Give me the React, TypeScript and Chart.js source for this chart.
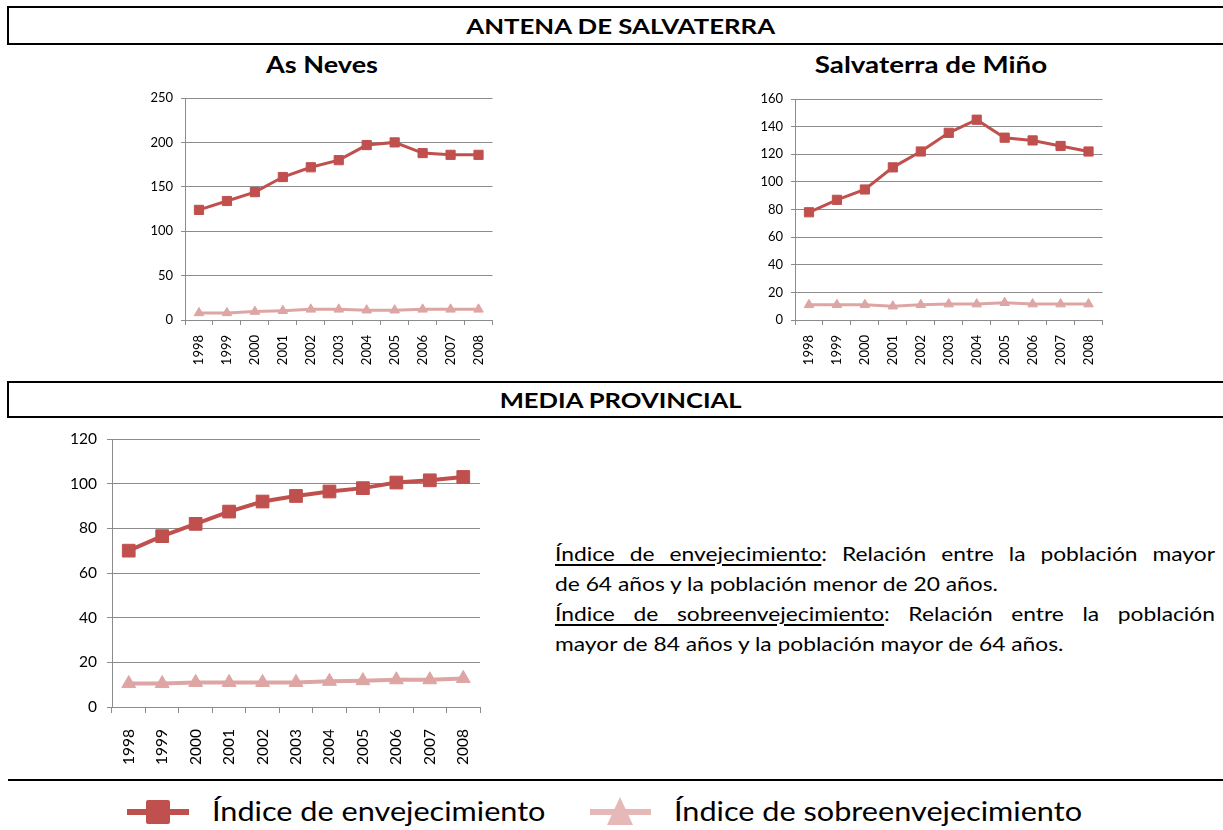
import React, { useEffect, useRef } from 'react';
import { Chart, registerables } from 'chart.js';

Chart.register(...registerables);

const YEARS = ['1998', '1999', '2000', '2001', '2002', '2003', '2004', '2005', '2006', '2007', '2008'];

const NEVES_ENV = [124, 134, 144, 161, 172, 180, 197, 200, 188, 186, 186];
const NEVES_SOB = [8, 8, 9.5, 10.5, 12, 12, 11, 11, 12, 12, 12];

const SALV_ENV = [78, 87, 94.5, 110.5, 122, 135.5, 145, 132, 130, 126, 122];
const SALV_SOB = [11, 11, 11, 10, 11, 11.5, 11.5, 12.5, 11.5, 11.5, 11.5];

const PROV_ENV = [70, 76.5, 82, 87.5, 92, 94.5, 96.5, 98, 100.5, 101.5, 103];
const PROV_SOB = [10.5, 10.5, 11, 11, 11, 11, 11.5, 11.8, 12.2, 12.2, 12.8];

const SERIES_ENV = 'Índice de envejecimiento';
const SERIES_SOB = 'Índice de sobreenvejecimiento';

const RED = '#C0504D';
const PINK = '#DDA5A4';
const PINK_LEGEND = '#E6B9B8';
const GRID = '#8C8C8C';
const FONT = 'Lato, "Open Sans", sans-serif';

type ChartProps = {
  left: number;
  top: number;
  width: number;
  height: number;
  yAxisWidth: number;
  xAxisHeight: number;
  padTop: number;
  padRight: number;
  env: number[];
  sob: number[];
  max: number;
  step: number;
  fontSize: number;
  lineWidth: number;
  squareR: number;
  triR: number;
  tickLen: number;
  yPad: number;
  xPad: number;
};

function LineChart(p: ChartProps) {
  const ref = useRef<HTMLCanvasElement>(null);
  useEffect(() => {
    const chart = new Chart(ref.current!, {
      type: 'line',
      data: {
        labels: YEARS,
        datasets: [
          {
            label: SERIES_ENV,
            data: p.env,
            borderColor: RED,
            backgroundColor: RED,
            borderWidth: p.lineWidth,
            pointStyle: 'rect',
            pointRadius: p.squareR,
            pointBackgroundColor: RED,
            pointBorderColor: RED,
            pointBorderWidth: 1,
            tension: 0,
          },
          {
            label: SERIES_SOB,
            data: p.sob,
            borderColor: PINK,
            backgroundColor: PINK,
            borderWidth: p.lineWidth,
            pointStyle: 'triangle',
            pointRadius: p.triR,
            pointBackgroundColor: PINK,
            pointBorderColor: PINK,
            pointBorderWidth: 1,
            tension: 0,
          },
        ],
      },
      options: {
        animation: false,
        responsive: false,
        maintainAspectRatio: false,
        layout: { padding: { top: p.padTop, right: p.padRight, left: 0, bottom: 0 } },
        plugins: { legend: { display: false }, tooltip: { enabled: false } },
        scales: {
          x: {
            offset: true,
            grid: {
              offset: true,
              drawOnChartArea: false,
              drawTicks: true,
              tickLength: p.tickLen,
              color: GRID,
            },
            border: { color: GRID, width: 1 },
            ticks: {
              autoSkip: false,
              maxRotation: 90,
              minRotation: 90,
              padding: p.xPad,
              color: '#000',
              font: { family: FONT, size: p.fontSize },
            },
            afterFit: (s: any) => {
              s.height = p.xAxisHeight;
              s.paddingLeft = 0;
              s.paddingRight = 0;
            },
          },
          y: {
            min: 0,
            max: p.max,
            ticks: {
              stepSize: p.step,
              padding: p.yPad,
              color: '#000',
              font: { family: FONT, size: p.fontSize },
            },
            grid: { color: GRID, tickLength: p.tickLen - 1, lineWidth: 1 },
            border: { color: GRID, width: 1 },
            afterFit: (s: any) => {
              s.width = p.yAxisWidth;
              s.paddingTop = 0;
              s.paddingBottom = 0;
            },
          },
        },
      },
    });
    return () => chart.destroy();
  }, []);
  return (
    <canvas
      ref={ref}
      width={p.width}
      height={p.height}
      style={{ position: 'absolute', left: p.left, top: p.top, width: p.width, height: p.height }}
    />
  );
}

const boxStyle = (top: number, height: number): React.CSSProperties => ({
  position: 'absolute',
  left: 7,
  top,
  width: 1230,
  height,
  boxSizing: 'border-box',
  border: '2px solid #000',
});

const boxText = (sx: number): React.CSSProperties => ({
  position: 'absolute',
  left: 0,
  width: 1223,
  top: 0,
  bottom: 0,
  display: 'flex',
  alignItems: 'center',
  justifyContent: 'center',
  fontFamily: FONT,
  fontWeight: 700,
  fontSize: 20,
  color: '#000',
  transform: `scaleX(${sx})`,
  transformOrigin: '611px 50%',
});

const titleStyle = (cx: number, top: number, sx: number): React.CSSProperties => ({
  position: 'absolute',
  left: cx - 200,
  width: 400,
  top,
  textAlign: 'center',
  fontFamily: FONT,
  fontWeight: 700,
  fontSize: 22,
  lineHeight: '26px',
  color: '#000',
  transform: `scaleX(${sx})`,
  transformOrigin: '200px 50%',
});

const TEXT_SX = 1.14;
const lineStyle = (top: number, justify: boolean): React.CSSProperties => ({
  position: 'absolute',
  left: 555,
  top,
  width: 660 / TEXT_SX,
  fontFamily: FONT,
  fontSize: 20,
  lineHeight: '30px',
  whiteSpace: 'nowrap',
  textAlign: justify ? 'justify' : 'left',
  textAlignLast: justify ? 'justify' : 'left',
  color: '#000',
  transform: `scaleX(${TEXT_SX})`,
  transformOrigin: '0 50%',
});

const ul: React.CSSProperties = { textDecoration: 'underline', textUnderlineOffset: 3 };

const LEG_SX = 1.135;
const legendText = (left: number): React.CSSProperties => ({
  position: 'absolute',
  left,
  top: 793,
  fontFamily: FONT,
  fontSize: 27,
  lineHeight: '36px',
  color: '#000',
  whiteSpace: 'nowrap',
  transform: `scaleX(${LEG_SX})`,
  transformOrigin: '0 50%',
});

export default function App() {
  return (
    <div
      style={{
        position: 'absolute',
        left: 0,
        top: 0,
        width: 1223,
        height: 830,
        overflow: 'hidden',
        background: '#fff',
      }}
    >
      <div style={boxStyle(6, 39)}>
        <div style={boxText(1.29)}>ANTENA DE SALVATERRA</div>
      </div>
      <div style={titleStyle(322, 52, 1.23)}>As Neves</div>
      <div style={titleStyle(931, 52, 1.26)}>Salvaterra de Miño</div>

      <LineChart
        left={135} top={88} width={365} height={290}
        yAxisWidth={50} xAxisHeight={58} padTop={10} padRight={7}
        env={NEVES_ENV} sob={NEVES_SOB} max={250} step={50}
        fontSize={13} lineWidth={3} squareR={6.5} triR={5.5}
        tickLen={5} yPad={8} xPad={10}
      />
      <LineChart
        left={745} top={89} width={365} height={289}
        yAxisWidth={50} xAxisHeight={58} padTop={10} padRight={7}
        env={SALV_ENV} sob={SALV_SOB} max={160} step={20}
        fontSize={13} lineWidth={3} squareR={6.5} triR={5.5}
        tickLen={5} yPad={8} xPad={10}
      />

      <div style={boxStyle(381, 37)}>
        <div style={boxText(1.28)}>MEDIA PROVINCIAL</div>
      </div>

      <LineChart
        left={55} top={428} width={435} height={340}
        yAxisWidth={57} xAxisHeight={61} padTop={11} padRight={8}
        env={PROV_ENV} sob={PROV_SOB} max={120} step={20}
        fontSize={15.5} lineWidth={4} squareR={9} triR={8}
        tickLen={6} yPad={10} xPad={16}
      />

      <div style={lineStyle(538, true)}>
        <span style={ul}>Índice de envejecimiento</span>: Relación entre la población mayor
      </div>
      <div style={lineStyle(568, false)}>de 64 años y la población menor de 20 años.</div>
      <div style={lineStyle(598, true)}>
        <span style={ul}>Índice de sobreenvejecimiento</span>: Relación entre la población
      </div>
      <div style={lineStyle(628, false)}>mayor de 84 años y la población mayor de 64 años.</div>

      <div style={{ position: 'absolute', left: 8, top: 779, width: 1230, height: 2, background: '#000' }} />

      {/* legend */}
      <div style={{ position: 'absolute', left: 127, top: 809, width: 62, height: 6, background: RED }} />
      <div style={{ position: 'absolute', left: 146, top: 800, width: 24, height: 24, background: RED, borderRadius: 2 }} />
      <div style={legendText(212)}>{SERIES_ENV}</div>
      <div style={{ position: 'absolute', left: 590, top: 809, width: 61, height: 6, background: PINK_LEGEND }} />
      <div
        style={{
          position: 'absolute',
          left: 607,
          top: 797,
          width: 0,
          height: 0,
          borderLeft: '13px solid transparent',
          borderRight: '13px solid transparent',
          borderBottom: `28px solid ${PINK_LEGEND}`,
        }}
      />
      <div style={legendText(674)}>{SERIES_SOB}</div>
    </div>
  );
}
